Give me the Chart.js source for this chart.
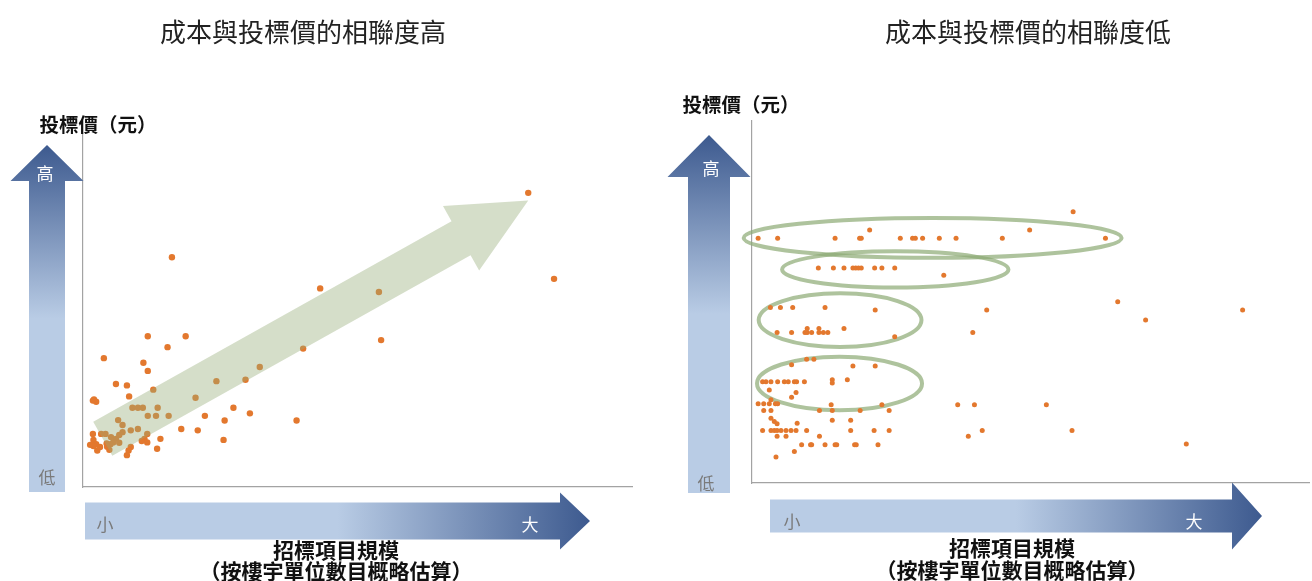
<!DOCTYPE html>
<html>
<head>
<meta charset="utf-8">
<script src="https://cdn.jsdelivr.net/npm/chart.js@4/dist/chart.umd.min.js"></script>
<style>
  body { margin: 0; background: #fff; width: 1312px; height: 581px; overflow: hidden; position: relative;
         font-family: "Noto Sans CJK TC", "Noto Sans CJK SC", sans-serif; }
  .box { position: absolute; top: 0; width: 656px; height: 581px; }
  .t { position: absolute; white-space: nowrap; transform: translate(-50%, -50%); line-height: 1; }
  .title { font-size: 26px; color: #222; }
  .lab { font-size: 19.5px; font-weight: bold; color: #111; }
  .xlab { font-size: 21px; font-weight: bold; color: #111; }
  .mark { font-size: 17px; }
</style>
</head>
<body>
<div class="box" style="left:0"><canvas id="left"></canvas></div>
<div class="box" style="left:656px"><canvas id="right"></canvas></div>

<div class="t title" style="left:303px; top:31px">成本與投標價的相聯度高</div>
<div class="t title" style="left:1028px; top:31px">成本與投標價的相聯度低</div>

<div class="t lab" style="left:98px; top:124px">投標價（元）</div>
<div class="t lab" style="left:741px; top:104px">投標價（元）</div>

<div class="t xlab" style="left:336px; top:549px">招標項目規模</div>
<div class="t xlab" style="left:336px; top:570px">（按樓宇單位數目概略估算）</div>
<div class="t xlab" style="left:1012px; top:547px">招標項目規模</div>
<div class="t xlab" style="left:1012px; top:569px">（按樓宇單位數目概略估算）</div>

<div class="t mark" style="left:45px; top:172px; color:#fff">高</div>
<div class="t mark" style="left:47px; top:476px; color:#7a7a7a">低</div>
<div class="t mark" style="left:105px; top:523px; color:#7a7a7a">小</div>
<div class="t mark" style="left:530px; top:523px; color:#fff">大</div>
<div class="t mark" style="left:711px; top:167px; color:#fff">高</div>
<div class="t mark" style="left:706px; top:482px; color:#7a7a7a">低</div>
<div class="t mark" style="left:792px; top:520px; color:#7a7a7a">小</div>
<div class="t mark" style="left:1194px; top:520px; color:#fff">大</div>

<script>
// left chart: project size vs bid price (high correlation)
const leftX = [81.1, 85.8, 16.2, 43.2, 53.9, 54.3, 11.8, 18.7, 15.4, 3.8, 40.1, 11.0, 11.8, 32.2,
  6.0, 8.0, 24.3, 29.6, 12.8, 8.4, 20.5, 2.0, 2.4, 1.8, 9.0, 10.0, 10.9, 13.6, 27.4, 11.8, 13.3,
  15.6, 22.2, 30.4, 25.8, 38.9, 6.4, 7.2, 8.7, 10.0, 17.9, 20.9, 3.3, 4.1, 7.2, 6.6, 6.0, 1.8,
  11.7, 11.2, 11.7, 14.1, 25.6, 1.9, 2.4, 1.9, 2.6, 4.3, 5.0, 4.8, 4.4, 5.5, 6.6, 8.7, 8.3, 8.0,
  13.5, 1.3, 3.1, 5.1, 10.7];
const leftY = [83.1, 58.8, 64.9, 56.1, 55.1, 41.5, 42.6, 42.6, 39.5, 36.4, 39.1, 35.1, 32.8, 33.9,
  29.1, 28.7, 29.9, 30.3, 27.5, 25.6, 25.2, 24.7, 24.1, 24.4, 22.4, 22.4, 22.4, 22.4, 22.4, 20.1, 20.1,
  20.1, 20.1, 20.8, 18.8, 18.8, 18.9, 17.5, 16.0, 16.4, 16.4, 16.0, 15.0, 15.0, 15.5, 14.7, 13.6, 15.0,
  15.0, 13.6, 12.6, 13.6, 13.3, 13.3, 12.1, 11.6, 10.3, 12.3, 12.1, 10.5, 11.4, 12.6, 12.5, 11.3, 10.3, 9.0,
  10.8, 11.9, 11.3, 14.1, 13.0];

// right chart: project size vs bid price (low correlation)
const rightX = [1.1, 4.6, 14.9, 19.3, 19.6, 26.6, 28.8, 29.3, 30.6, 33.6, 36.6, 44.9, 63.4, 21.1, 49.8, 57.6,
  11.9, 14.6, 16.5, 18.1, 18.6, 19.1, 19.6, 22.0, 23.3, 25.6, 34.4,
  3.3, 5.1, 7.3, 13.1, 22.1, 42.1, 65.6, 88.0, 70.6,
  4.5, 7.1, 9.5, 9.9, 10.7, 12.0, 12.8, 13.6, 9.9, 12.0, 16.5, 25.6, 39.6,
  9.8, 11.1, 7.1, 18.1, 22.1,
  1.9, 2.5, 3.4, 4.6, 6.5, 5.8, 7.6, 8.0, 9.4, 14.4, 14.4, 17.1, 3.1, 7.9, 7.1,
  1.1, 2.1, 3.1, 4.2, 4.6, 14.2, 23.3, 36.9, 39.9, 52.8, 3.4,
  2.1, 3.4, 12.1, 14.4, 19.4, 24.6,
  3.4, 4.0, 4.5, 8.1, 14.4, 17.7,
  1.9, 3.4, 4.0, 4.5, 5.2, 6.1, 7.0, 7.9, 9.8, 17.7, 21.9, 24.6, 41.3, 57.4,
  4.5, 6.1, 12.1, 38.8,
  8.9, 10.5, 10.7, 13.1, 14.9, 15.2, 18.4, 18.7, 22.6, 77.9,
  7.6, 4.3];
const rightY = [67.6, 67.6, 67.6, 67.6, 67.6, 67.6, 67.6, 67.6, 67.6, 67.6, 67.6, 67.6, 67.6, 69.9, 69.9, 74.9,
  59.4, 59.4, 59.4, 59.4, 59.4, 59.4, 59.4, 59.4, 59.4, 59.4, 57.4,
  48.5, 48.5, 48.5, 48.5, 47.8, 47.8, 50.1, 47.8, 45.0,
  41.6, 41.6, 41.6, 41.6, 41.6, 41.6, 41.6, 41.6, 42.7, 42.7, 42.7, 40.4, 41.6,
  34.2, 34.2, 32.7, 32.3, 32.3,
  28.0, 28.0, 28.0, 28.0, 28.0, 28.0, 28.0, 28.0, 28.0, 28.5, 27.6, 28.5, 25.7, 25.0, 23.7,
  21.9, 21.9, 21.9, 21.9, 21.9, 21.6, 21.6, 21.6, 21.6, 21.6, 23.0,
  20.0, 20.0, 20.0, 20.0, 20.0, 20.0,
  17.9, 17.0, 16.4, 16.5, 17.3, 17.3,
  14.5, 14.5, 14.5, 14.5, 14.5, 14.5, 14.5, 14.5, 14.5, 14.5, 14.5, 14.5, 14.5, 14.5,
  12.9, 12.9, 12.9, 12.9,
  10.6, 10.6, 10.6, 10.6, 10.6, 10.6, 10.6, 10.6, 10.6, 10.8,
  8.7, 7.2];

// trend arrow on the left chart (tail -> tip, data units)
const trendFrom = [3.6, 13.6];
const trendTo = [81.1, 80.9];

// price bands circled on the right chart (data units)
const bandCx = [32.4, 25.7, 15.8, 15.7];
const bandCy = [67.7, 59.0, 45.0, 27.5];
const bandRx = [33.9, 20.3, 14.6, 14.8];
const bandRy = [5.5, 5.0, 7.4, 7.4];

const DARK = "#3d5a8f";
const LIGHT = "#b9cce5";

// fill is a colour, or a list of [stop, colour] along the arrow (0 = tail, 1 = tip)
const blockArrow = (ctx, x0, y0, x1, y1, shaftW, headW, headL, fill) => {
  const len = Math.hypot(x1 - x0, y1 - y0);
  const ang = Math.atan2(y1 - y0, x1 - x0);
  ctx.save();
  ctx.translate(x0, y0);
  ctx.rotate(ang);
  ctx.beginPath();
  ctx.moveTo(0, -shaftW / 2);
  ctx.lineTo(len - headL, -shaftW / 2);
  ctx.lineTo(len - headL, -headW / 2);
  ctx.lineTo(len, 0);
  ctx.lineTo(len - headL, headW / 2);
  ctx.lineTo(len - headL, shaftW / 2);
  ctx.lineTo(0, shaftW / 2);
  ctx.closePath();
  if (Array.isArray(fill)) {
    const g = ctx.createLinearGradient(0, 0, len, 0);
    fill.forEach(([s, c]) => g.addColorStop(s, c));
    ctx.fillStyle = g;
  } else {
    ctx.fillStyle = fill;
  }
  ctx.fill();
  ctx.restore();
}

const axisFill = [[0, LIGHT], [0.5, LIGHT], [1, DARK]];

// gradient axis arrows, positions in canvas pixels
const axisArrows = (opts) => ({
  id: "axisArrows",
  afterDraw(chart) {
    const ctx = chart.ctx;
    const v = opts.v, h = opts.h;
    blockArrow(ctx, v.cx, v.bottom, v.cx, v.tip, v.shaftW, v.headW, v.headL, axisFill);
    blockArrow(ctx, h.tail, h.cy, h.tip, h.cy, h.shaftW, h.headW, h.headL, axisFill);
  }
});

const trendArrow = {
  id: "trendArrow",
  afterDatasetsDraw(chart) {
    const { x, y } = chart.scales;
    blockArrow(chart.ctx,
      x.getPixelForValue(trendFrom[0]), y.getPixelForValue(trendFrom[1]),
      x.getPixelForValue(trendTo[0]), y.getPixelForValue(trendTo[1]),
      39, 74, 77, "rgba(150, 172, 120, 0.4)");
  }
};

const bands = {
  id: "bands",
  beforeDatasetsDraw(chart) {
    const { x, y } = chart.scales;
    const ctx = chart.ctx;
    ctx.save();
    ctx.strokeStyle = "rgba(140, 170, 115, 0.7)";
    ctx.lineWidth = 4;
    for (let i = 0; i < bandCx.length; i++) {
      const cx = x.getPixelForValue(bandCx[i]);
      const cy = y.getPixelForValue(bandCy[i]);
      const rx = x.getPixelForValue(bandCx[i] + bandRx[i]) - cx;
      const ry = cy - y.getPixelForValue(bandCy[i] + bandRy[i]);
      ctx.beginPath();
      ctx.ellipse(cx, cy, rx, ry, 0, 0, Math.PI * 2);
      ctx.stroke();
    }
    ctx.restore();
  }
};

const scaleOpts = (fit) => ({
  type: "linear",
  min: 0,
  max: 100,
  ticks: { display: false },
  grid: { display: false },
  border: { color: "#a3a3a3", width: 1.2 },
  afterFit: fit,
});

const make_chart = (id, xs, ys, radius, padding, plugins) => {
  return new Chart(document.getElementById(id), {
    type: "scatter",
    data: {
      datasets: [{
        data: xs.map((v, i) => ({ x: v, y: ys[i] })),
        backgroundColor: "#e3782e",
        borderWidth: 0,
        pointRadius: radius,
        pointHoverRadius: radius,
      }]
    },
    options: {
      responsive: true,
      maintainAspectRatio: false,
      animation: false,
      layout: { padding: padding },
      plugins: { legend: { display: false }, tooltip: { enabled: false } },
      scales: {
        x: scaleOpts((s) => { s.height = 0; }),
        y: scaleOpts((s) => { s.width = 0; }),
      },
      clip: false,
    },
    plugins: plugins,
  });
}

make_chart("left", leftX, leftY, 3.2,
  { left: 83, right: 24, top: 133, bottom: 94 },
  [trendArrow, axisArrows({
    v: { cx: 47, tip: 145, bottom: 492, shaftW: 36, headW: 73, headL: 36 },
    h: { tail: 85, tip: 590, cy: 521, shaftW: 37, headW: 57, headL: 30 },
  })]);

make_chart("right", rightX, rightY, 2.5,
  { left: 96, right: 0, top: 121, bottom: 98 },
  [bands, axisArrows({
    v: { cx: 53, tip: 135, bottom: 493, shaftW: 42, headW: 83, headL: 42 },
    h: { tail: 114, tip: 606, cy: 516, shaftW: 33, headW: 67, headL: 30 },
  })]);
</script>
</body>
</html>
